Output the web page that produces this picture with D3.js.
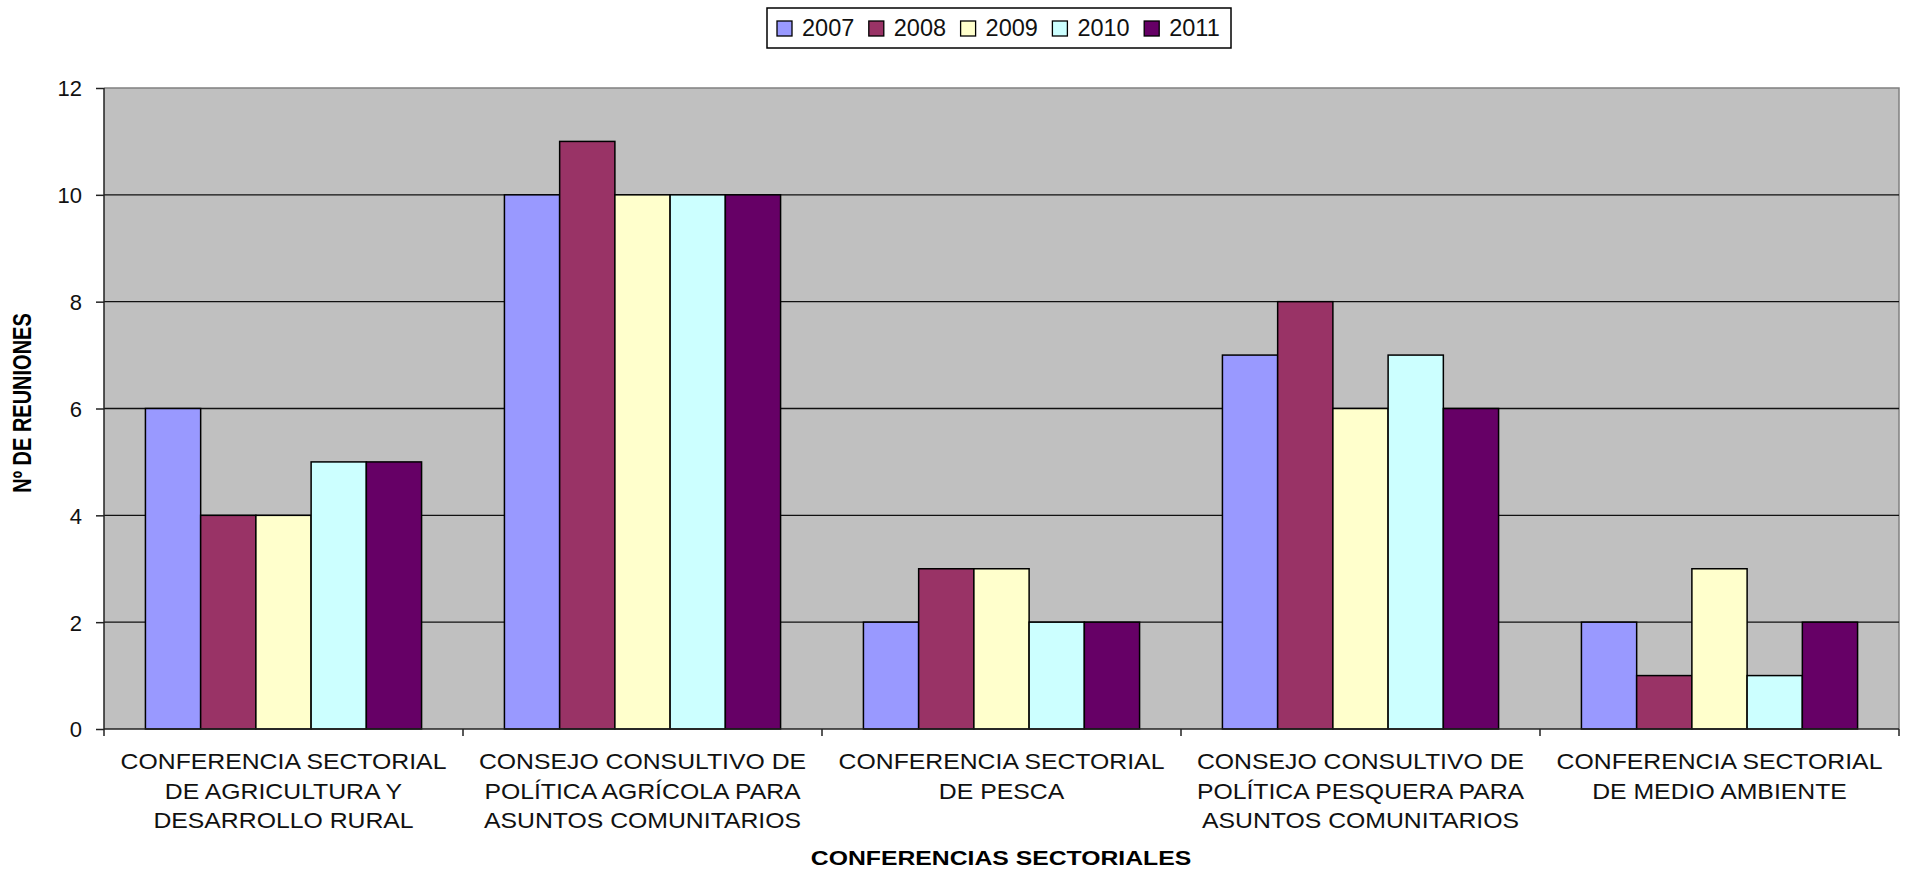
<!DOCTYPE html>
<html><head><meta charset="utf-8">
<script src="https://cdn.jsdelivr.net/npm/d3@7"></script>
<style>body{margin:0;background:#fff;} svg{display:block;} text{font-family:"Liberation Sans",Arial,sans-serif;}</style>
</head><body>
<svg id="chart" width="1905" height="872"></svg>
<script>
const categories = [
  ["CONFERENCIA SECTORIAL","DE AGRICULTURA Y","DESARROLLO RURAL"],
  ["CONSEJO CONSULTIVO DE","POLÍTICA AGRÍCOLA PARA","ASUNTOS COMUNITARIOS"],
  ["CONFERENCIA SECTORIAL","DE PESCA"],
  ["CONSEJO CONSULTIVO DE","POLÍTICA PESQUERA PARA","ASUNTOS COMUNITARIOS"],
  ["CONFERENCIA SECTORIAL","DE MEDIO AMBIENTE"]
];
const years = ["2007","2008","2009","2010","2011"];
const v2007 = [6,10,2,7,2];
const v2008 = [4,11,3,8,1];
const v2009 = [4,10,3,6,3];
const v2010 = [5,10,2,7,1];
const v2011 = [5,10,2,6,2];
const seriesValues = [v2007,v2008,v2009,v2010,v2011];
const colors = ["#9999FF","#993366","#FFFFCC","#CCFFFF","#660066"];
const yTicks = [0,2,4,6,8,10,12];
const yTitle = "Nº DE REUNIONES";
const xTitle = "CONFERENCIAS SECTORIALES";

const svg = d3.select("#chart");
const L=104, R=1899, T=88, B=729;
const catIdx = categories.map((c,i)=>i);
const x0 = d3.scaleBand().domain(catIdx).range([L,R]).padding(0);
const x1 = d3.scaleBand().domain(years).range([0,x0.bandwidth()]).paddingInner(0).paddingOuter(0.75);
const y = d3.scaleLinear().domain([0,12]).range([B,T]);

// plot background
svg.append("rect").attr("x",L).attr("y",T).attr("width",R-L).attr("height",B-T).attr("fill","#C0C0C0");
// top & right border
svg.append("path").attr("d",`M${L},${T}H${R}V${B}`).attr("fill","none").attr("stroke","#808080").attr("stroke-width",1.5);
// gridlines
svg.append("g").selectAll("line").data(yTicks.filter(t=>t>0 && t<12)).join("line")
  .attr("x1",L).attr("x2",R).attr("y1",d=>y(d)).attr("y2",d=>y(d))
  .attr("stroke","#111").attr("stroke-width",1.3);

// bars
const groups = svg.append("g").selectAll("g").data(catIdx).join("g")
  .attr("transform",d=>`translate(${x0(d)},0)`);
groups.selectAll("rect").data(ci=>years.map((yr,si)=>({yr,si,v:seriesValues[si][ci]}))).join("rect")
  .attr("x",d=>x1(d.yr)).attr("width",x1.bandwidth())
  .attr("y",d=>y(d.v)).attr("height",d=>B-y(d.v))
  .attr("fill",d=>colors[d.si]).attr("stroke","#000").attr("stroke-width",1.5);

// y axis
const yAxis = d3.axisLeft(y).tickValues(yTicks).tickSize(8).tickPadding(14);
const gy = svg.append("g").attr("transform",`translate(${L},0)`).call(yAxis);
gy.select(".domain").attr("stroke","#222").attr("stroke-width",1.5).attr("d",`M0,${T}V${B}`);
gy.selectAll(".tick line").attr("stroke","#222").attr("stroke-width",1.5);
gy.selectAll(".tick text").attr("font-size","22px").attr("fill","#111").attr("font-family","Liberation Sans, Arial, sans-serif").attr("dy","0.36em");

// x axis line & ticks at category boundaries
const bounds = catIdx.map(i=>x0(i)).concat([R]);
svg.append("line").attr("x1",L).attr("x2",R).attr("y1",B).attr("y2",B).attr("stroke","#222").attr("stroke-width",1.5);
svg.append("g").selectAll("line").data(bounds).join("line")
  .attr("x1",d=>d).attr("x2",d=>d).attr("y1",B).attr("y2",B+7).attr("stroke","#222").attr("stroke-width",1.5);

// category labels
const baseY = [769,799,828];
const sx = 1.127;
categories.forEach((lines,i)=>{
  const cx = x0(i)+x0.bandwidth()/2;
  lines.forEach((ln,j)=>{
    svg.append("text").attr("transform",`translate(${cx},${baseY[j]}) scale(${sx},1)`)
      .attr("text-anchor","middle").attr("font-size","22px").attr("fill","#111").text(ln);
  });
});

// axis titles
svg.append("text").attr("transform",`translate(1001,865) scale(1.27,1)`)
  .attr("text-anchor","middle").attr("font-size","19.5px").attr("font-weight","bold").attr("fill","#000").text(xTitle);
svg.append("text").attr("transform",`translate(31,403) scale(1.28,1) rotate(-90)`)
  .attr("text-anchor","middle").attr("font-size","20px").attr("font-weight","bold").attr("fill","#000").text(yTitle);

// legend
svg.append("rect").attr("x",767).attr("y",8).attr("width",464).attr("height",40).attr("fill","#fff").attr("stroke","#000").attr("stroke-width",1.5);
const leg = svg.append("g").selectAll("g").data(years).join("g")
  .attr("transform",(d,i)=>`translate(${777+i*91.8},0)`);
leg.append("rect").attr("x",0).attr("y",21).attr("width",15).attr("height",15).attr("fill",(d,i)=>colors[i]).attr("stroke","#000").attr("stroke-width",1.3);
leg.append("text").attr("x",25).attr("y",36).attr("font-size","23.5px").attr("fill","#111").text(d=>d);
</script>
</body></html>
